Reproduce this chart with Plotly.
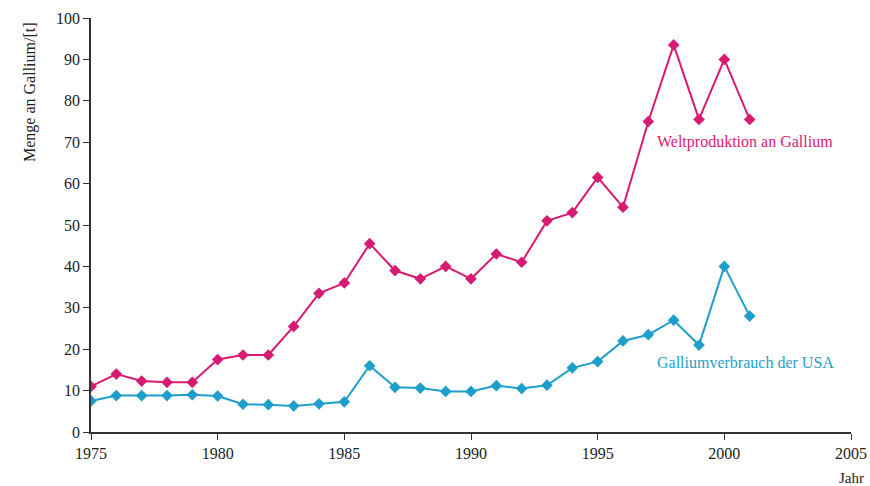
import plotly.graph_objects as go

# Jahre und Mengen (t)
years = list(range(1975, 2002))
world_production = [11, 14, 12.3, 12, 12, 17.5, 18.6, 18.6, 25.5, 33.5,
                    36, 45.5, 39, 37, 40, 37, 43, 41, 51, 53,
                    61.5, 54.3, 75, 93.5, 75.5, 90, 75.5]
usa_consumption = [7.5, 8.8, 8.8, 8.8, 9, 8.7, 6.7, 6.6, 6.3, 6.8,
                   7.3, 16, 10.8, 10.6, 9.8, 9.8, 11.2, 10.5, 11.3, 15.5,
                   17, 22, 23.5, 27, 21, 40, 28]
x_ticks = [1975, 1980, 1985, 1990, 1995, 2000, 2005]
y_ticks = [0, 10, 20, 30, 40, 50, 60, 70, 80, 90, 100]

MAGENTA = "#D81B72"
CYAN = "#1E9FCB"
FONT = "Liberation Serif"
TEXT = "#222222"

fig = go.Figure()
fig.add_trace(go.Scatter(
    x=years, y=world_production, mode="lines+markers",
    line={"color": MAGENTA, "width": 2},
    marker={"symbol": "diamond", "size": 9, "color": MAGENTA},
    name="Weltproduktion an Gallium",
))
fig.add_trace(go.Scatter(
    x=years, y=usa_consumption, mode="lines+markers",
    line={"color": CYAN, "width": 2},
    marker={"symbol": "diamond", "size": 9, "color": CYAN},
    name="Galliumverbrauch der USA",
))

# Beschriftungen der Kurven
fig.add_annotation(x=1997.25, y=70, text="Weltproduktion an Gallium",
                   showarrow=False, xanchor="left", yanchor="middle",
                   font={"color": MAGENTA, "size": 16, "family": FONT})
fig.add_annotation(x=1997.25, y=16.7, text="Galliumverbrauch der USA",
                   showarrow=False, xanchor="left", yanchor="middle",
                   font={"color": CYAN, "size": 16, "family": FONT})

# Achsentitel
fig.add_annotation(x=1, y=0, xref="paper", yref="paper", yshift=-46,
                   text="Jahr", showarrow=False, xanchor="center", yanchor="middle",
                   font={"color": TEXT, "size": 15, "family": FONT})
fig.add_annotation(x=0, y=1, xref="paper", yref="paper", xshift=-61, yshift=-2,
                   text="Menge an Gallium/[t]", textangle=-90, showarrow=False,
                   xanchor="center", yanchor="top",
                   font={"color": TEXT, "size": 16, "family": FONT})

fig.update_layout(
    width=870, height=486,
    margin={"l": 91, "r": 19, "t": 18, "b": 54},
    paper_bgcolor="white", plot_bgcolor="white",
    showlegend=False,
    font={"family": FONT, "size": 16, "color": TEXT},
    xaxis={
        "range": [1975, 2005], "tickvals": x_ticks, "automargin": False,
        "showline": True, "linecolor": "#333333", "linewidth": 1.5,
        "ticks": "outside", "ticklen": 6, "tickcolor": "#333333",
        "showgrid": False, "zeroline": False,
    },
    yaxis={
        "range": [0, 100], "tickvals": y_ticks, "automargin": False,
        "showline": True, "linecolor": "#333333", "linewidth": 1.5,
        "ticks": "outside", "ticklen": 6, "tickcolor": "#333333",
        "showgrid": False, "zeroline": False,
    },
)

# Seitenrand entfernen, damit die Abbildung das ganze Fenster füllt
fig.write_html("out.html",
               config={"displayModeBar": False},
               post_script="document.body.style.margin='0px';"
                           "document.body.style.overflow='hidden';")
